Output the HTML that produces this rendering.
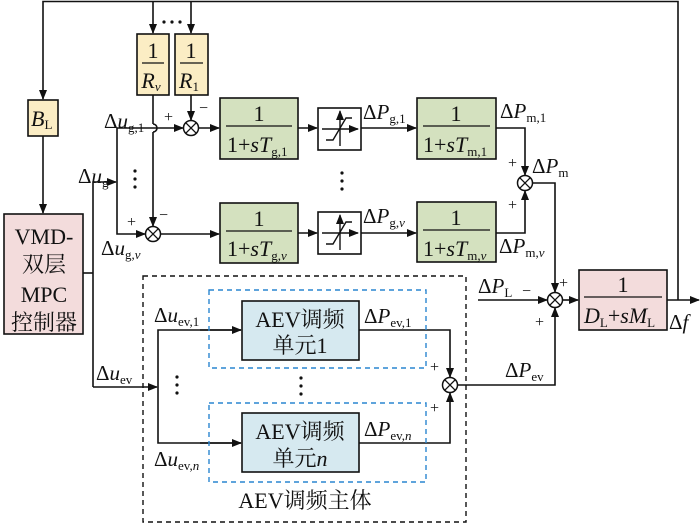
<!DOCTYPE html>
<html><head><meta charset="utf-8"><style>
body{margin:0;background:#fff}
svg{display:block}
text{font-family:"Liberation Serif","Noto Serif CJK SC",serif;fill:#111}
.i{font-style:italic}
</style></head><body>
<svg width="700" height="524" viewBox="0 0 700 524" xmlns="http://www.w3.org/2000/svg">
<defs><marker id="a" markerWidth="10" markerHeight="8" refX="9" refY="4" orient="auto" markerUnits="userSpaceOnUse"><path d="M0,0 L10,4 L0,8 Z" fill="#111"/></marker></defs>
<g stroke="#111" stroke-width="1.6" fill="none">
<!-- top feedback -->
<polyline points="678,300 678,1.5 43,1.5 43,99" marker-end="url(#a)"/>
<line x1="153" y1="1.5" x2="153" y2="33" marker-end="url(#a)"/>
<line x1="191" y1="1.5" x2="191" y2="33" marker-end="url(#a)"/>
<line x1="43" y1="136" x2="43" y2="213" marker-end="url(#a)"/>
<!-- R to sums -->
<line x1="191" y1="95" x2="191" y2="120" marker-end="url(#a)"/>
<polyline points="153,95 153,124"/>
<path d="M153,124 A4,4 0 0 1 153,132"/>
<line x1="153" y1="132" x2="153" y2="226" marker-end="url(#a)"/>
<!-- VMD outputs -->
<polyline points="83,273 93,273"/>
<polyline points="93,387 93,182 116,182" marker-end="url(#a)"/>
<polyline points="117,182 117,128 183,128" marker-end="url(#a)"/>
<polyline points="117,182 117,234 145,234" marker-end="url(#a)"/>
<line x1="199" y1="128" x2="219" y2="128" marker-end="url(#a)"/>
<line x1="161" y1="234" x2="219" y2="234" marker-end="url(#a)"/>
<line x1="298" y1="128" x2="317" y2="128" marker-end="url(#a)"/>
<line x1="298" y1="233" x2="317" y2="233" marker-end="url(#a)"/>
<line x1="361" y1="128" x2="416" y2="128" marker-end="url(#a)"/>
<line x1="361" y1="233" x2="416" y2="233" marker-end="url(#a)"/>
<polyline points="496,128 525,128 525,175" marker-end="url(#a)"/>
<polyline points="496,233 525,233 525,191" marker-end="url(#a)"/>
<polyline points="533,183 555,183 555,292" marker-end="url(#a)"/>
<line x1="478" y1="300" x2="547" y2="300" marker-end="url(#a)"/>
<line x1="563" y1="300" x2="578" y2="300" marker-end="url(#a)"/>
<line x1="667" y1="300" x2="699" y2="300" marker-end="url(#a)"/>
<!-- EV -->
<polyline points="93,387 157,387" marker-end="url(#a)"/>
<polyline points="241,330 158,330 158,443 241,443"/>
<line x1="200" y1="330" x2="241" y2="330" marker-end="url(#a)"/>
<line x1="200" y1="443" x2="241" y2="443" marker-end="url(#a)"/>
<polyline points="359,330 450,330 450,377" marker-end="url(#a)"/>
<polyline points="359,443 450,443 450,393" marker-end="url(#a)"/>
<polyline points="458,385 555,385 555,308" marker-end="url(#a)"/>
</g>
<!-- dashed boxes -->
<rect x="143" y="276" width="323" height="246" fill="none" stroke="#111" stroke-width="1.4" stroke-dasharray="5,4"/>
<rect x="209" y="290" width="217" height="78" fill="none" stroke="#2a86d0" stroke-width="1.4" stroke-dasharray="5,4"/>
<rect x="209" y="403" width="217" height="79" fill="none" stroke="#2a86d0" stroke-width="1.4" stroke-dasharray="5,4"/>
<!-- blocks -->
<g stroke="#111" stroke-width="1.6">
<rect x="137" y="34" width="32" height="61" fill="#fbedc4"/>
<rect x="175" y="34" width="33" height="61" fill="#fbedc4"/>
<rect x="28" y="100" width="30" height="36" fill="#fbedc4"/>
<rect x="4" y="214" width="79" height="120" fill="#f3dcdc"/>
<rect x="220" y="98" width="78" height="61" fill="#d4e1bf"/>
<rect x="220" y="203" width="78" height="60" fill="#d4e1bf"/>
<rect x="417" y="98" width="79" height="61" fill="#d4e1bf"/>
<rect x="417" y="202" width="79" height="60" fill="#d4e1bf"/>
<rect x="318" y="108" width="43" height="42" fill="#fff"/>
<rect x="318" y="212" width="43" height="42" fill="#fff"/>
<rect x="579" y="270" width="88" height="60" fill="#f3dcdc"/>
<rect x="242" y="301" width="117" height="59" fill="#d6e9f0"/>
<rect x="242" y="413" width="117" height="59" fill="#d6e9f0"/>
</g>
<!-- saturation icons -->
<g stroke="#111" stroke-width="1.4" fill="none">
<line x1="322" y1="129" x2="358" y2="129" marker-end="url(#a)"/>
<line x1="340" y1="146" x2="340" y2="111" marker-end="url(#a)"/>
<polyline points="326,140 333,140 346,118 352,118"/>
<line x1="322" y1="233" x2="358" y2="233" marker-end="url(#a)"/>
<line x1="340" y1="250" x2="340" y2="215" marker-end="url(#a)"/>
<polyline points="326,244 333,244 346,222 352,222"/>
</g>
<!-- fraction bars -->
<g stroke="#111" stroke-width="1.3">
<line x1="142" y1="63" x2="164" y2="63"/><line x1="180" y1="63" x2="203" y2="63"/>
<line x1="226" y1="126" x2="292" y2="126"/><line x1="226" y1="231" x2="292" y2="231"/>
<line x1="423" y1="126" x2="490" y2="126"/><line x1="423" y1="230" x2="490" y2="230"/>
<line x1="584" y1="297" x2="662" y2="297"/>
</g>
<!-- sums -->
<g stroke="#111" stroke-width="1.5" fill="#fff">
<circle cx="191" cy="128" r="7.5"/><circle cx="153" cy="234" r="7.5"/>
<circle cx="525" cy="183" r="7.5"/><circle cx="555" cy="300" r="7.5"/>
<circle cx="450" cy="385" r="7.5"/>
</g>
<g stroke="#111" stroke-width="1.3">
<path d="M185.7,122.7 L196.3,133.3 M196.3,122.7 L185.7,133.3"/>
<path d="M147.7,228.7 L158.3,239.3 M158.3,228.7 L147.7,239.3"/>
<path d="M519.7,177.7 L530.3,188.3 M530.3,177.7 L519.7,188.3"/>
<path d="M549.7,294.7 L560.3,305.3 M560.3,294.7 L549.7,305.3"/>
<path d="M444.7,379.7 L455.3,390.3 M455.3,379.7 L444.7,390.3"/>
</g>
<!-- texts -->
<g font-size="22" text-anchor="middle">
<text x="153" y="58">1</text><text x="191" y="58">1</text>
<text x="151" y="88" class="i">R<tspan font-size="13" font-style="italic" dy="3">v</tspan></text>
<text x="189" y="88" class="i">R<tspan font-size="13" font-style="normal" dy="3">1</tspan></text>
<text x="259" y="121">1</text><text x="259" y="226">1</text>
<text x="456" y="121">1</text><text x="456" y="225">1</text>
<text x="623" y="292">1</text>
</g>
<g font-size="22">
<text x="31" y="126" class="i">B<tspan font-size="13" font-style="normal" dy="3">L</tspan></text>
<text x="227" y="152">1+<tspan class="i">sT</tspan><tspan font-size="13" dy="4">g,1</tspan></text>
<text x="227" y="256">1+<tspan class="i">sT</tspan><tspan font-size="13" dy="4">g,<tspan class="i">v</tspan></tspan></text>
<text x="423" y="152">1+<tspan class="i">sT</tspan><tspan font-size="13" dy="4">m,1</tspan></text>
<text x="423" y="256">1+<tspan class="i">sT</tspan><tspan font-size="13" dy="4">m,<tspan class="i">v</tspan></tspan></text>
<text x="584" y="323"><tspan class="i">D</tspan><tspan font-size="13" dy="4">L</tspan><tspan dy="-4">+</tspan><tspan class="i">sM</tspan><tspan font-size="13" dy="4">L</tspan></text>
</g>
<g font-size="22" text-anchor="middle">
<text x="44" y="244">VMD-</text>
<text x="44" y="272">双层</text>
<text x="44" y="302">MPC</text>
<text x="44" y="330">控制器</text>
<text x="300" y="327">AEV调频</text>
<text x="300" y="353">单元1</text>
<text x="300" y="439">AEV调频</text>
<text x="300" y="466">单元<tspan class="i">n</tspan></text>
<text x="305" y="508">AEV调频主体</text>
</g>
<g font-size="21">
<text x="104" y="128">Δ<tspan class="i">u</tspan><tspan font-size="13" dy="4">g,1</tspan></text>
<text x="78" y="183">Δ<tspan class="i">u</tspan><tspan font-size="13" dy="4">g</tspan></text>
<text x="101" y="255">Δ<tspan class="i">u</tspan><tspan font-size="13" dy="4">g,<tspan class="i">v</tspan></tspan></text>
<text x="96" y="380">Δ<tspan class="i">u</tspan><tspan font-size="13" dy="4">ev</tspan></text>
<text x="154" y="322">Δ<tspan class="i">u</tspan><tspan font-size="13" dy="4">ev,1</tspan></text>
<text x="154" y="466">Δ<tspan class="i">u</tspan><tspan font-size="13" dy="4">ev,<tspan class="i">n</tspan></tspan></text>
<text x="363" y="119">Δ<tspan class="i">P</tspan><tspan font-size="13" dy="4">g,1</tspan></text>
<text x="363" y="223">Δ<tspan class="i">P</tspan><tspan font-size="13" dy="4">g,<tspan class="i">v</tspan></tspan></text>
<text x="500" y="118">Δ<tspan class="i">P</tspan><tspan font-size="13" dy="4">m,1</tspan></text>
<text x="532" y="173">Δ<tspan class="i">P</tspan><tspan font-size="13" dy="4">m</tspan></text>
<text x="499" y="253">Δ<tspan class="i">P</tspan><tspan font-size="13" dy="4">m,<tspan class="i">v</tspan></tspan></text>
<text x="478" y="293">Δ<tspan class="i">P</tspan><tspan font-size="13" dy="4">L</tspan></text>
<text x="505" y="377">Δ<tspan class="i">P</tspan><tspan font-size="13" dy="4">ev</tspan></text>
<text x="364" y="323">Δ<tspan class="i">P</tspan><tspan font-size="13" dy="4">ev,1</tspan></text>
<text x="364" y="436">Δ<tspan class="i">P</tspan><tspan font-size="13" dy="4">ev,<tspan class="i">n</tspan></tspan></text>
<text x="669" y="329">Δ<tspan class="i">f</tspan></text>
</g>
<g font-size="16">
<text x="164" y="122">+</text><text x="199" y="113">−</text>
<text x="127" y="227">+</text><text x="159" y="220">−</text>
<text x="508" y="168">+</text><text x="508" y="210">+</text>
<text x="522" y="296">−</text><text x="559" y="288">+</text><text x="535" y="327">+</text>
<text x="430" y="372">+</text><text x="430" y="413">+</text>
</g>
<!-- dots -->
<g fill="#111">
<circle cx="164" cy="22" r="1.6"/><circle cx="172" cy="22" r="1.6"/><circle cx="180" cy="22" r="1.6"/>
<circle cx="135" cy="171" r="1.6"/><circle cx="135" cy="179" r="1.6"/><circle cx="135" cy="187" r="1.6"/>
<circle cx="342" cy="173" r="1.6"/><circle cx="342" cy="181" r="1.6"/><circle cx="342" cy="189" r="1.6"/>
<circle cx="177" cy="377" r="1.6"/><circle cx="177" cy="385" r="1.6"/><circle cx="177" cy="393" r="1.6"/>
<circle cx="301" cy="378" r="1.6"/><circle cx="301" cy="386" r="1.6"/><circle cx="301" cy="394" r="1.6"/>
</g>
</svg>
</body></html>
